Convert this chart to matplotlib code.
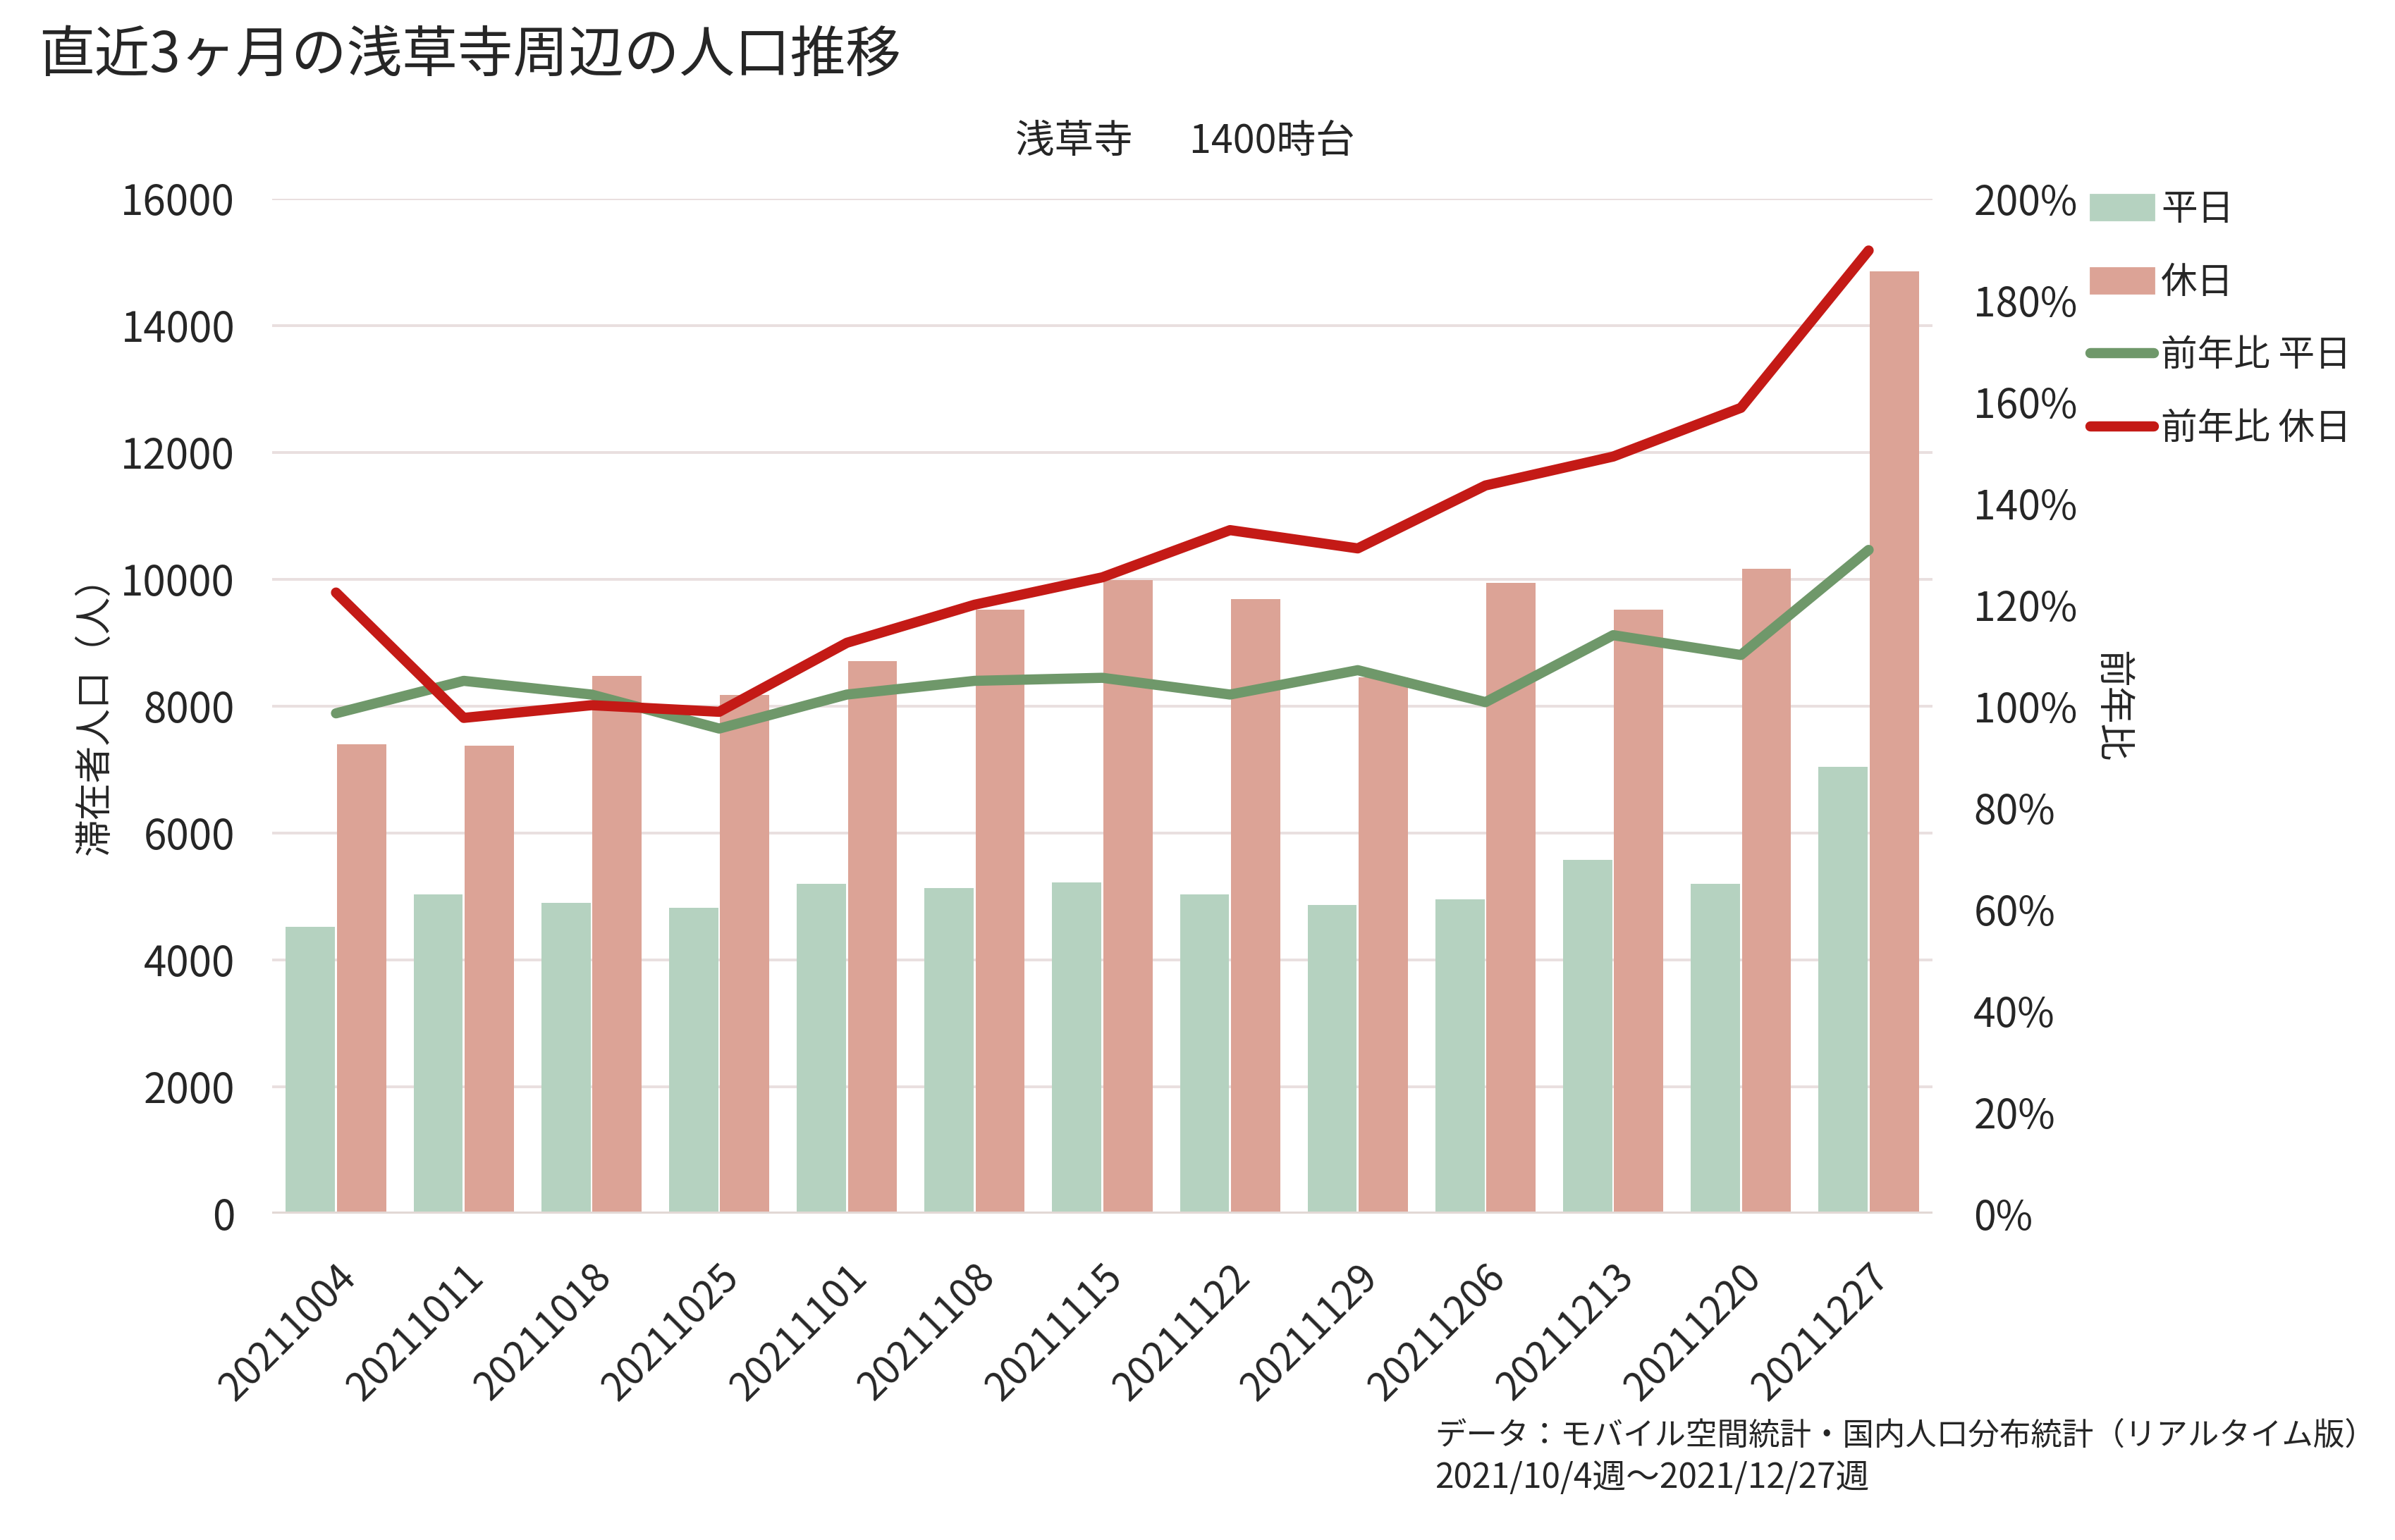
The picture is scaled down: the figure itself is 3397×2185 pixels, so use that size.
import numpy as np
import matplotlib
matplotlib.use("Agg")
import matplotlib.pyplot as plt
from matplotlib.patches import Patch
from matplotlib.lines import Line2D
from matplotlib.ticker import FuncFormatter

plt.rcParams['font.family'] = ['Noto Sans CJK JP', 'DejaVu Sans']

# weekly data
weeks = ['20211004', '20211011', '20211018', '20211025', '20211101', '20211108', '20211115',
         '20211122', '20211129', '20211206', '20211213', '20211220', '20211227']
weekday = [4520, 5030, 4900, 4820, 5200, 5130, 5220, 5030, 4870, 4960, 5580, 5200, 7050]
holiday = [7400, 7380, 8480, 8180, 8710, 9520, 9990, 9690, 8460, 9950, 9520, 10170, 14860]
yoy_weekday = [98.6, 105.0, 102.3, 95.6, 102.3, 105.0, 105.6, 102.3, 107.1, 100.8, 114.0, 110.1, 130.8]
yoy_holiday = [122.4, 97.7, 100.2, 98.9, 112.5, 120.0, 125.4, 134.7, 131.1, 143.5, 149.2, 158.8, 189.8]

c_wd_bar = '#b5d2c0'
c_hd_bar = '#dca396'
c_wd_line = '#6f986a'
c_hd_line = '#c41a16'
c_text = '#262626'
c_grid = '#e9dfdf'

fig = plt.figure(figsize=(3397 / 200, 2185 / 200), dpi=200)
ax = fig.add_axes([386 / 3397, 1 - 1722 / 2185, (2741 - 386) / 3397, (1722 - 282) / 2185])
ax2 = ax.twinx()

x = np.arange(len(weeks))
w = 0.385
ax.bar(x - 0.2, weekday, width=w, color=c_wd_bar, zorder=2)
ax.bar(x + 0.2, holiday, width=w, color=c_hd_bar, zorder=2)

lw = 5.2
ax2.plot(x, yoy_weekday, color=c_wd_line, lw=lw, solid_capstyle='round', solid_joinstyle='round')
ax2.plot(x, yoy_holiday, color=c_hd_line, lw=lw, solid_capstyle='round', solid_joinstyle='round')

ax.set_xlim(-0.5, len(weeks) - 0.5)
ax.set_ylim(0, 16000)
ax.set_yticks(np.arange(0, 16001, 2000))
ax2.set_ylim(0, 200)
ax2.set_yticks(np.arange(0, 201, 20))
ax2.yaxis.set_major_formatter(FuncFormatter(lambda v, p: f'{int(v)}%'))

ax.grid(axis='y', color=c_grid, lw=1.4, zorder=0)
ax.set_axisbelow(True)
for a in (ax, ax2):
    for s in ('top', 'left', 'right', 'bottom'):
        a.spines[s].set_visible(False)
    a.tick_params(length=0, colors=c_text)
ax.axhline(0, color='#e2d8d5', lw=2.2, zorder=3)

ax.set_xticks(x)
ax.set_xticklabels(weeks, rotation=45, ha='right', rotation_mode='anchor')
ax.tick_params(axis='x', pad=22, labelsize=20)
ax.tick_params(axis='y', pad=19, labelsize=21)
ax2.tick_params(axis='y', pad=21, labelsize=20.5)

ax.set_ylabel('滞在者人口（人）', fontsize=19, color=c_text)
ax.yaxis.set_label_coords(-0.095, 0.5)
ax2.set_ylabel('前年比', fontsize=19, color=c_text, rotation=-90, va='center')
ax2.yaxis.set_label_coords(1.108, 0.5)

fig.text(1681 / 3397, 1 - 201 / 2185, '浅草寺\u3000  1400時台', fontsize=20, color=c_text,
         ha='center', va='center')
fig.text(55 / 3397, 1 - 80 / 2185, '直近3ヶ月の浅草寺周辺の人口推移', fontsize=28.3, color=c_text,
         ha='left', va='center')

handles = [Patch(color=c_wd_bar), Patch(color=c_hd_bar),
           Line2D([], [], color=c_wd_line, lw=lw, solid_capstyle='round'),
           Line2D([], [], color=c_hd_line, lw=lw, solid_capstyle='round')]
labels = ['平日', '休日', '前年比 平日', '前年比 休日']
fig.legend(handles, labels, loc='upper left', bbox_to_anchor=(2944 / 3397, 1 - 250 / 2185),
           frameon=False, fontsize=18.6, handlelength=1.75, handleheight=0.7,
           handletextpad=0.2, labelspacing=0.97, borderaxespad=0, labelcolor=c_text)

fig.text(2035 / 3397, 1 - 2037 / 2185, 'データ：モバイル空間統計・国内人口分布統計（リアルタイム版）',
         fontsize=16, color=c_text, ha='left', va='center')
fig.text(2035 / 3397, 1 - 2097 / 2185, '2021/10/4週～2021/12/27週',
         fontsize=17.2, color=c_text, ha='left', va='center')

fig.savefig('out.png', dpi=200, facecolor='white')
